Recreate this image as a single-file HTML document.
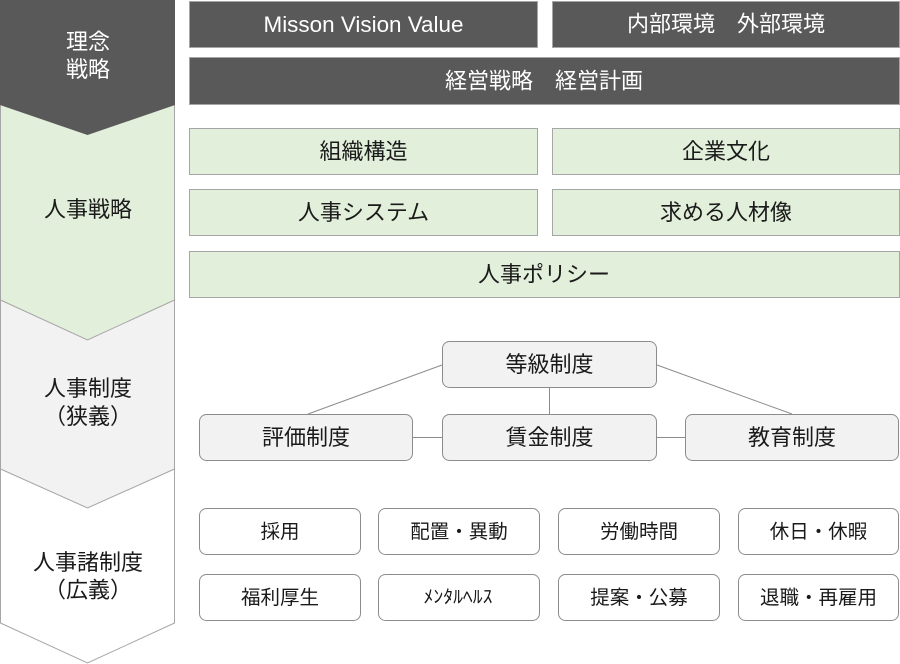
<!DOCTYPE html>
<html><head><meta charset="utf-8"><style>
html,body{margin:0;padding:0;background:#fff;}
svg{display:block;}
text{font-family:"Liberation Sans","Noto Sans CJK JP",sans-serif;}
.jp{font-family:"Noto Sans CJK JP","Liberation Sans",sans-serif;}
</style></head><body>
<svg width="900" height="664" viewBox="0 0 900 664" xmlns="http://www.w3.org/2000/svg">
<!-- chevrons -->
<polygon points="0.5,460 174.5,460 174.5,623 87.5,663 0.5,623" fill="#ffffff" stroke="#a6a6a6" stroke-width="1"/>
<polygon points="0.5,300 174.5,300 174.5,469 87.5,508 0.5,469" fill="#f2f2f2" stroke="#a6a6a6" stroke-width="1"/>
<polygon points="0.5,105 174.5,105 174.5,300 87.5,340 0.5,300" fill="#e2efda" stroke="#a6a6a6" stroke-width="1"/>
<polygon points="0,0 175,0 175,105 87.5,135 0,105" fill="#595959"/>

<g class="jp" font-size="22" text-anchor="middle">
<text x="88" y="49.5" fill="#ffffff">理念</text>
<text x="88" y="77" fill="#ffffff">戦略</text>
<text x="88" y="217" fill="#1a1a1a">人事戦略</text>
<text x="88" y="396" fill="#1a1a1a">人事制度</text>
<text x="88" y="424" fill="#1a1a1a">（狭義）</text>
<text x="88" y="570" fill="#1a1a1a">人事諸制度</text>
<text x="88" y="597.5" fill="#1a1a1a">（広義）</text>
</g>

<!-- dark boxes -->
<rect x="189.5" y="1.5" width="348" height="46" fill="#595959" stroke="#a6a6a6"/>
<rect x="552.5" y="1.5" width="347" height="46" fill="#595959" stroke="#a6a6a6"/>
<rect x="189.5" y="57.5" width="710" height="47" fill="#595959" stroke="#a6a6a6"/>
<g class="jp" font-size="22" text-anchor="middle" fill="#ffffff">
<text x="363.5" y="32" textLength="200" lengthAdjust="spacingAndGlyphs">Misson Vision Value</text>
<text x="726" y="31.5">内部環境　外部環境</text>
<text x="544" y="88.5">経営戦略　経営計画</text>
</g>

<!-- green boxes -->
<g fill="#e2efda" stroke="#a6a6a6">
<rect x="189.5" y="128.5" width="348" height="46"/>
<rect x="552.5" y="128.5" width="347" height="46"/>
<rect x="189.5" y="189.5" width="348" height="46"/>
<rect x="552.5" y="189.5" width="347" height="46"/>
<rect x="189.5" y="251.5" width="710" height="46"/>
</g>
<g class="jp" font-size="22" text-anchor="middle" fill="#1a1a1a">
<text x="363.5" y="159">組織構造</text>
<text x="726" y="159">企業文化</text>
<text x="363.5" y="220">人事システム</text>
<text x="726" y="220">求める人材像</text>
<text x="544" y="282">人事ポリシー</text>
</g>

<!-- connectors -->
<g stroke="#8c8c8c" stroke-width="1" fill="none">
<line x1="442" y1="365" x2="308" y2="414"/>
<line x1="657" y1="365" x2="792" y2="414"/>
<line x1="549.5" y1="388" x2="549.5" y2="414"/>
<line x1="413" y1="437.5" x2="442" y2="437.5"/>
<line x1="657" y1="437.5" x2="685" y2="437.5"/>
</g>
<g fill="#f2f2f2" stroke="#8c8c8c">
<rect x="442.5" y="341.5" width="214" height="46" rx="7"/>
<rect x="199.5" y="414.5" width="213" height="46" rx="7"/>
<rect x="442.5" y="414.5" width="214" height="46" rx="7"/>
<rect x="685.5" y="414.5" width="213" height="46" rx="7"/>
</g>
<g class="jp" font-size="22" text-anchor="middle" fill="#1a1a1a">
<text x="549.5" y="372">等級制度</text>
<text x="306" y="445">評価制度</text>
<text x="549.5" y="445">賃金制度</text>
<text x="792" y="445">教育制度</text>
</g>

<!-- bottom boxes -->
<g fill="#ffffff" stroke="#8c8c8c">
<rect x="199.5" y="508.5" width="161" height="46" rx="7"/>
<rect x="378.5" y="508.5" width="161" height="46" rx="7"/>
<rect x="558.5" y="508.5" width="161" height="46" rx="7"/>
<rect x="738.5" y="508.5" width="160" height="46" rx="7"/>
<rect x="199.5" y="574.5" width="161" height="46" rx="7"/>
<rect x="378.5" y="574.5" width="161" height="46" rx="7"/>
<rect x="558.5" y="574.5" width="161" height="46" rx="7"/>
<rect x="738.5" y="574.5" width="160" height="46" rx="7"/>
</g>
<g class="jp" font-size="19.5" text-anchor="middle" fill="#1a1a1a">
<text x="280" y="538">採用</text>
<text x="459" y="538">配置・異動</text>
<text x="639" y="538">労働時間</text>
<text x="818.5" y="538">休日・休暇</text>
<text x="280" y="604">福利厚生</text>
<text x="458" y="603" font-size="18" textLength="69" lengthAdjust="spacingAndGlyphs">ﾒﾝﾀﾙﾍﾙｽ</text>
<text x="639" y="604">提案・公募</text>
<text x="818.5" y="604">退職・再雇用</text>
</g>
</svg>
</body></html>
